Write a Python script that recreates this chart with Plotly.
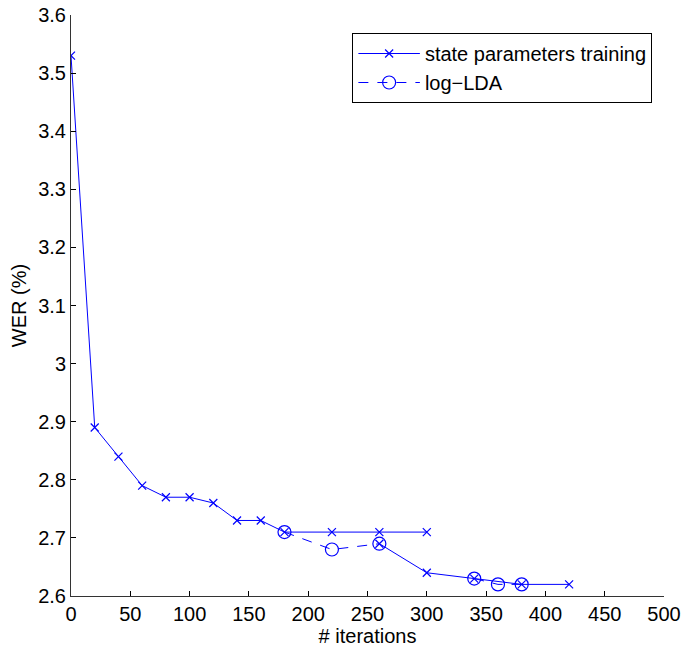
import plotly.graph_objects as go

# state parameters training (two branches, separated by a gap)
train_iter = [0, 20, 40, 60, 80, 100, 120, 140, 160, 180, 220, 260, 300,
              None, 260, 300, 340, 380, 420]
train_wer = [3.53, 2.89, 2.84, 2.79, 2.77, 2.77, 2.76, 2.73, 2.73, 2.71, 2.71, 2.71, 2.71,
             None, 2.69, 2.64, 2.63, 2.62, 2.62]

# log-LDA (two pieces)
lda_iter = [180, 220, 260, None, 340, 360, 380]
lda_wer = [2.71, 2.68, 2.69, None, 2.63, 2.62, 2.62]

x_ticks = [0, 50, 100, 150, 200, 250, 300, 350, 400, 450, 500]
y_ticks = [2.6, 2.7, 2.8, 2.9, 3.0, 3.1, 3.2, 3.3, 3.4, 3.5, 3.6]
y_tick_text = ["2.6", "2.7", "2.8", "2.9", "3", "3.1", "3.2", "3.3", "3.4", "3.5", "3.6"]

BLUE = "#0000FF"
FONT = "Liberation Sans, Arial, sans-serif"

fig = go.Figure()
fig.add_trace(go.Scatter(
    x=train_iter, y=train_wer, mode="lines+markers",
    name="state parameters training",
    line=dict(color=BLUE, width=1),
    marker=dict(symbol="x-thin", size=8, line=dict(color=BLUE, width=1.2), color=BLUE),
    connectgaps=False,
))
fig.add_trace(go.Scatter(
    x=lda_iter, y=lda_wer, mode="lines+markers",
    name="log\u2212LDA",
    line=dict(color=BLUE, width=1, dash="10px,9px"),
    marker=dict(symbol="circle-open", size=13, line=dict(color=BLUE, width=1.2), color=BLUE),
    connectgaps=False,
))

fig.update_layout(
    width=700, height=650,
    margin=dict(l=63, r=44, t=7, b=62),
    paper_bgcolor="white", plot_bgcolor="white",
    font=dict(family=FONT, size=20, color="black"),
    showlegend=True,
    legend=dict(
        x=0.4745, y=0.969, xanchor="left", yanchor="top",
        bordercolor="black", borderwidth=1, bgcolor="white",
        font=dict(size=20), tracegroupgap=0, itemwidth=61.5,
    ),
)
fig.update_xaxes(
    range=[0, 500], tickvals=x_ticks, ticks="inside", ticklen=5,
    tickcolor="black", showline=True, linecolor="#333333", linewidth=1,
    showgrid=False, zeroline=False, mirror=False, automargin=False,
    ticklabeloverflow="allow",
    title=dict(text="# iterations", standoff=2, font=dict(size=20)),
    tickfont=dict(size=20),
)
fig.update_yaxes(
    range=[2.6, 3.6], tickvals=y_ticks, ticktext=y_tick_text, ticks="inside", ticklen=5,
    tickcolor="black", showline=True, linecolor="#333333", linewidth=1,
    showgrid=False, zeroline=False, mirror=False, automargin=False,
    ticklabeloverflow="allow",
    title=dict(text="WER (%)", standoff=9, font=dict(size=20)),
    tickfont=dict(size=20),
)

fig.write_html("out.html")
